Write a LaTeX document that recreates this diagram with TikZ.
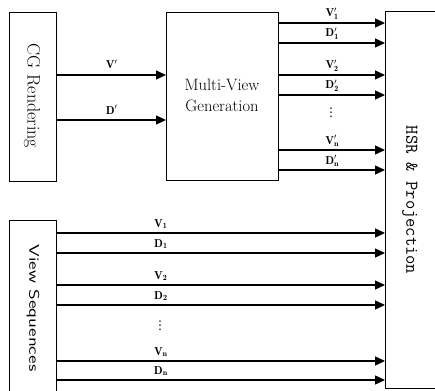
\documentclass[tikz,border=0pt]{standalone}
\usepackage{fontspec}
\newfontfamily\symfont{DejaVu Sans}
\usetikzlibrary{arrows.meta}
\begin{document}
\begin{tikzpicture}[x=1pt,y=-1pt,
  blk/.style={draw, line width=1.3pt, inner sep=0pt, anchor=north west},
  arr/.style={-{Triangle[length=10pt,width=9pt]}, line width=1.3pt},
  lbl/.style={font=\fontsize{11.5}{11.5}\selectfont\bfseries, inner sep=0pt, anchor=base, yshift=6pt},
  dotsty/.style={font=\symfont\fontsize{12}{12}\selectfont, inner sep=0pt}]
\useasboundingbox (0,0) rectangle (435,390);
\clip (0,0) rectangle (435,390);
% boxes
\node[blk, minimum width=47pt, minimum height=169pt] (cg) at (9,12) {};
\node[blk, minimum width=112pt, minimum height=168pt] (mv) at (166,12) {};
\node[blk, minimum width=70pt, minimum height=377pt] (hsr) at (385,11) {};
\node[blk, minimum width=47pt, minimum height=190pt] (vs) at (9,220) {};
% box texts
\node[rotate=-90, font=\fontsize{18}{18}\selectfont] (cgt) at (32,96) {CG Rendering};
\node[align=center, font=\fontsize{16.5}{21}\selectfont] (mvt) at (222,95) {Multi-View\\Generation};
\node[rotate=-90, font=\ttfamily\fontsize{18}{18}\selectfont] (hsrt) at (410,200) {HSR \& Projection};
\node[rotate=-90, font=\sffamily\fontsize{14}{14}\selectfont] (vst) at (33,308) {\scalebox{1.4}[1]{View Sequences}};
% CG -> MV
\draw[arr] (cg.east |- 0,75) -- node[lbl] {$\mathbf{V}'$} (mv.west |- 0,75);
\draw[arr] (cg.east |- 0,120) -- node[lbl] {$\mathbf{D}'$} (mv.west |- 0,120);
% MV -> HSR
\foreach \y/\t in {23/{\mathbf{V}'_{\mathbf{1}}}, 43/{\mathbf{D}'_{\mathbf{1}}}, 75/{\mathbf{V}'_{\mathbf{2}}}, 95/{\mathbf{D}'_{\mathbf{2}}}, 150/{\mathbf{V}'_{\mathbf{n}}}, 170/{\mathbf{D}'_{\mathbf{n}}}}
  \draw[arr] (mv.east |- 0,\y) -- node[lbl] {$\t$} (hsr.west |- 0,\y);
\node[dotsty] (d1) at (331,113) {⋮};
% VS -> HSR
\foreach \y/\t in {233/{\mathbf{V}_{\mathbf{1}}}, 253/{\mathbf{D}_{\mathbf{1}}}, 285/{\mathbf{V}_{\mathbf{2}}}, 305/{\mathbf{D}_{\mathbf{2}}}, 361/{\mathbf{V}_{\mathbf{n}}}, 380/{\mathbf{D}_{\mathbf{n}}}}
  \draw[arr] (vs.east |- 0,\y) -- node[lbl, pos=0.316] {$\t$} (hsr.west |- 0,\y);
\node[dotsty] (d2) at (160,326) {⋮};
\end{tikzpicture}
\end{document}
